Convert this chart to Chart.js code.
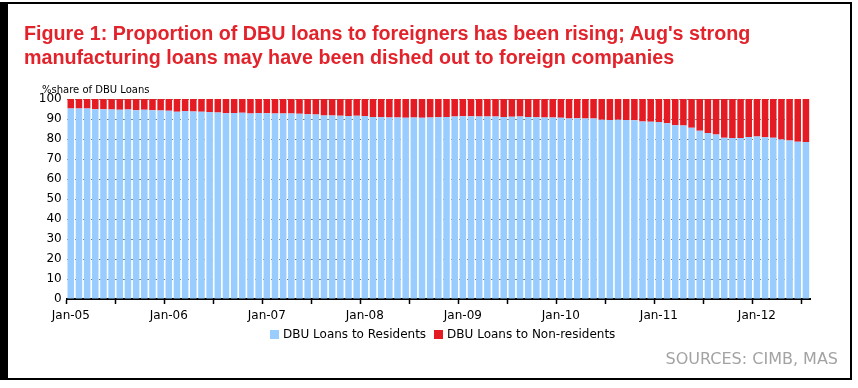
<!DOCTYPE html>
<html>
<head>
<meta charset="utf-8">
<script src="https://cdn.jsdelivr.net/npm/chart.js@4.4.1/dist/chart.umd.min.js"></script>
<style>
  html, body { margin: 0; padding: 0; background: #fff; }
  body { width: 858px; height: 388px; position: relative; overflow: hidden; }
  #frame {
    position: absolute; left: 0; top: 2px; width: 852px; height: 378px;
    box-sizing: border-box;
    border-top: 2px solid #000; border-right: 2px solid #000;
    border-bottom: 2px solid #000; border-left: 8px solid #000;
    pointer-events: none;
  }
  #title {
    position: absolute; left: 24px; top: 21px;
    font: bold 20px "Liberation Sans", Arial, sans-serif;
    line-height: 24px; color: #e2232b;
    transform: scaleX(0.985); transform-origin: left top;
  }
  #yTitle {
    position: absolute; left: 42px; top: 84px;
    font: 10px "DejaVu Sans", sans-serif; color: #000;
  }
  #legend {
    position: absolute; left: 270px; top: 326px; display: flex; align-items: center;
    font: 12px "DejaVu Sans", sans-serif; color: #000; line-height: 16px;
  }
  #legend .box { width: 9px; height: 9px; margin-right: 4px; }
  #sources {
    position: absolute; right: 20px; top: 349px;
    font: 16px "DejaVu Sans", sans-serif; color: #a3a3a3; line-height: 20px;
  }
  #mainChart { position: absolute; left: 0; top: 0; }
</style>
</head>
<body>
<canvas id="mainChart" width="858" height="388"></canvas>
<div id="title">Figure 1: Proportion of DBU loans to foreigners has been rising; Aug's strong<br>manufacturing loans may have been dished out to foreign companies</div>
<div id="yTitle">%share of DBU Loans</div>
<div id="legend"></div>
<div id="sources">SOURCES: CIMB, MAS</div>
<div id="frame"></div>
<script>
// ============================
// Data (monthly, Jan-05 .. Jul-12)
// ============================
const monthNames = ["Jan", "Feb", "Mar", "Apr", "May", "Jun", "Jul", "Aug", "Sep", "Oct", "Nov", "Dec"];
const years = ["05", "06", "07", "08", "09", "10", "11", "12"];

const residents = [
  95.3, 95.2, 95.2, 94.9, 94.9, 94.8, 94.6, 94.8, 94.4, 94.6, 94.4, 94.3,
  94.1, 93.6, 94.0, 93.8, 93.6, 93.5, 93.2, 92.9, 93.0, 93.1, 92.8, 93.0,
  92.9, 92.7, 92.7, 92.8, 92.6, 92.4, 92.2, 91.8, 91.8, 91.6, 91.5, 91.6,
  91.5, 91.0, 90.9, 90.8, 90.7, 90.6, 90.8, 90.6, 90.7, 90.9, 91.0, 91.3,
  91.4, 91.4, 91.2, 91.3, 91.2, 91.0, 91.1, 91.2, 91.0, 90.9, 90.8, 90.7,
  90.6, 90.3, 90.4, 90.2, 90.3, 89.6, 89.5, 89.6, 89.5, 89.4, 88.7, 88.6,
  88.5, 87.9, 86.9, 86.7, 85.6, 84.1, 83.0, 82.2, 80.6, 80.5, 80.5, 81.0,
  81.2, 80.9, 80.6, 79.8, 79.2, 78.6, 78.5
];

const nonResidents = [
  4.7, 4.8, 4.8, 5.1, 5.1, 5.2, 5.4, 5.2, 5.6, 5.4, 5.6, 5.7,
  5.9, 6.4, 6.0, 6.2, 6.4, 6.5, 6.8, 7.1, 7.0, 6.9, 7.2, 7.0,
  7.1, 7.3, 7.3, 7.2, 7.4, 7.6, 7.8, 8.2, 8.2, 8.4, 8.5, 8.4,
  8.5, 9.0, 9.1, 9.2, 9.3, 9.4, 9.2, 9.4, 9.3, 9.1, 9.0, 8.7,
  8.6, 8.6, 8.8, 8.7, 8.8, 9.0, 8.9, 8.8, 9.0, 9.1, 9.2, 9.3,
  9.4, 9.7, 9.6, 9.8, 9.7, 10.4, 10.5, 10.4, 10.5, 10.6, 11.3, 11.4,
  11.5, 12.1, 13.1, 13.3, 14.4, 15.9, 17.0, 17.8, 19.4, 19.5, 19.5, 19.0,
  18.8, 19.1, 19.4, 20.2, 20.8, 21.4, 21.5
];

const seriesNames = ["DBU Loans to Residents", "DBU Loans to Non-residents"];
const seriesColors = ["#99ccff", "#e41b23"];

// month labels "Jan-05" ... one per bar
const labels = [];
for (let i = 0; i < residents.length; i++) {
  labels.push(monthNames[i % 12] + "-" + years[Math.floor(i / 12)]);
}

// ============================
// Legend (html)
// ============================
const legendEl = document.getElementById("legend");
seriesNames.forEach((name, i) => {
  const box = document.createElement("span");
  box.className = "box";
  box.style.background = seriesColors[i];
  if (i > 0) box.style.marginLeft = "8px";
  const txt = document.createElement("span");
  txt.textContent = name;
  legendEl.appendChild(box);
  legendEl.appendChild(txt);
});

// ============================
// Chart
// ============================
const tickFont = { size: 12, family: "DejaVu Sans" };

const ctx = document.getElementById("mainChart").getContext("2d");
new Chart(ctx, {
  type: "bar",
  data: {
    labels,
    datasets: [
      { label: seriesNames[0], data: residents, backgroundColor: seriesColors[0] },
      { label: seriesNames[1], data: nonResidents, backgroundColor: seriesColors[1] }
    ]
  },
  options: {
    responsive: false,
    animation: false,
    layout: { padding: { left: 0, right: 48, top: 99, bottom: 59 } },
    datasets: {
      bar: { categoryPercentage: 1, barPercentage: 0.8, borderWidth: 0 }
    },
    plugins: {
      legend: { display: false },
      tooltip: { enabled: false }
    },
    scales: {
      x: {
        stacked: true,
        afterFit(scale) { scale.height = 30; },
        border: { display: true, color: "#000", width: 2 },
        grid: {
          offset: true,
          drawOnChartArea: false,
          tickLength: 5,
          tickWidth: 1.5,
          tickColor: (c) => (c.index % 6 === 0 ? "#000" : "rgba(0,0,0,0)")
        },
        ticks: {
          autoSkip: false,
          maxRotation: 0,
          padding: 5,
          color: "#000",
          font: tickFont,
          callback: function(value, index) {
            return index % 12 === 0 ? this.getLabelForValue(value) : "";
          }
        }
      },
      y: {
        stacked: true,
        min: 0,
        max: 100,
        afterFit(scale) { scale.width = 66.7; },
        border: { display: false, dash: [2, 2] },
        grid: {
          color: "#7a7a7a",
          lineWidth: 1,
          drawTicks: false
        },
        ticks: {
          stepSize: 10,
          padding: 5,
          color: "#000",
          font: tickFont
        }
      }
    }
  }
});
</script>
</body>
</html>
